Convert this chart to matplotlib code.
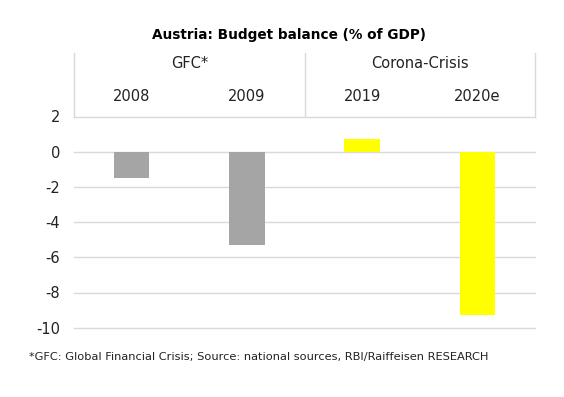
import matplotlib.pyplot as plt

# Datos
years = ['2008', '2009', '2019', '2020e']
balance = [-1.5, -5.3, 0.7, -9.3]
bar_colors = ['#A5A5A5', '#A5A5A5', '#FFFF00', '#FFFF00']
groups = ['GFC*', 'Corona-Crisis']
group_spans = [(0, 1), (2, 3)]
yticks = [2, 0, -2, -4, -6, -8, -10]

W, H = 564, 397
fig = plt.figure(figsize=(W / 100, H / 100), dpi=100)

x0, x1 = 74, 535
y_top, y_bot = 116.5, 327.7
y_head = 53

# grafico de barras
ax = fig.add_axes([x0 / W, 1 - y_bot / H, (x1 - x0) / W, (y_bot - y_top) / H])
xs = list(range(len(years)))
ax.bar(xs, balance, width=0.31, color=bar_colors, zorder=3)
ax.set_xlim(-0.5, len(years) - 0.5)
ax.set_ylim(-10, 2)
ax.set_yticks(yticks)
ax.set_yticklabels([str(t) for t in yticks], fontsize=10.5, color='#222222')
ax.set_xticks([])
ax.tick_params(axis='y', length=0, pad=10)
for s in ax.spines.values():
    s.set_visible(False)
for t in yticks:
    ax.axhline(t, color='#D9D9D9', lw=1, zorder=1, clip_on=False)

# cabecera con grupos y anos
hx = fig.add_axes([x0 / W, 1 - y_top / H, (x1 - x0) / W, (y_top - y_head) / H])
hx.set_xlim(-0.5, len(years) - 0.5)
hx.set_ylim(0, 1)
hx.set_xticks([])
hx.set_yticks([])
hx.patch.set_visible(False)
hx.spines['top'].set_visible(False)
hx.spines['bottom'].set_visible(False)
for side in ['left', 'right']:
    hx.spines[side].set_color('#D9D9D9')
    hx.spines[side].set_linewidth(1)
hx.axvline(1.5, color='#D9D9D9', lw=1)
for g, (a, b) in zip(groups, group_spans):
    hx.text((a + b) / 2, 0.84, g, ha='center', va='center', fontsize=10.5, color='#222222')
for x, yr in zip(xs, years):
    hx.text(x, 0.32, yr, ha='center', va='center', fontsize=10.5, color='#222222')

fig.text(289 / W, 1 - 35 / H, 'Austria: Budget balance (% of GDP)', ha='center', va='center',
         fontsize=9.8, fontweight='bold', color='black')
fig.text(29 / W, 1 - 357 / H,
         '*GFC: Global Financial Crisis; Source: national sources, RBI/Raiffeisen RESEARCH',
         ha='left', va='center', fontsize=8.2, color='#222222')

fig.savefig('out.png', dpi=100)
